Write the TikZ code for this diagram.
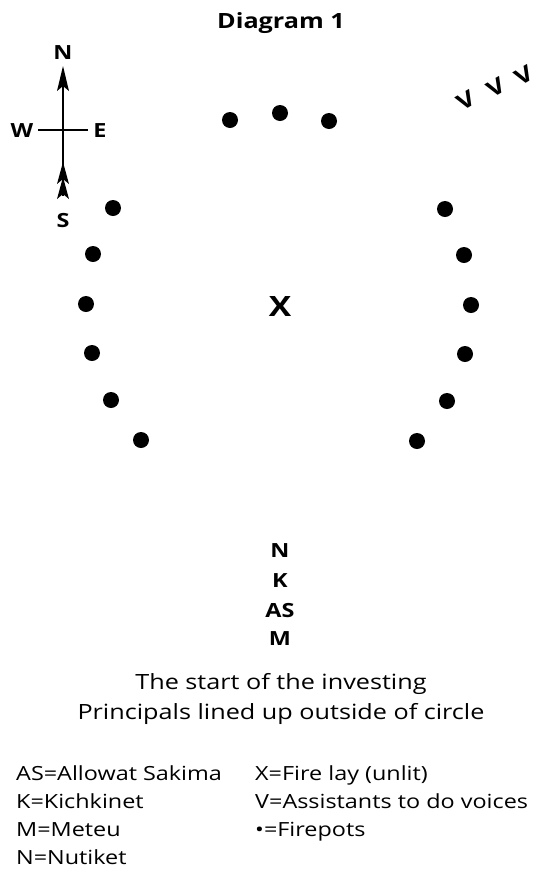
\documentclass[tikz,border=0pt]{standalone}
\usepackage{fontspec}
\setmainfont{Open Sans}[FakeStretch=1.2]
\usetikzlibrary{arrows.meta}
\begin{document}
\begin{tikzpicture}[x=1pt,y=-1pt,
  pot/.style={fill=black},
  bld/.style={font=\bfseries\fontsize{19.5}{23}\selectfont, inner sep=0pt},
  lbl/.style={font=\fontsize{21}{25}\selectfont, inner sep=0pt},
  leg/.style={font=\fontsize{19.5}{23}\selectfont, inner sep=0pt, anchor=base west},
  cmp/.style={line width=2.6pt},
  voice/.style={font=\bfseries\fontsize{22}{26}\selectfont, inner sep=0pt, rotate=30}]
\useasboundingbox (0,0) rectangle (539,871);
% title
\node[bld, font=\bfseries\fontsize{21}{25}\selectfont, anchor=base] (title) at (281,28) {Diagram 1};
% compass
\node[bld, anchor=base] (cN) at (63,59) {N};
\node[bld, anchor=base] (cS) at (63,227) {S};
\node[bld, anchor=base] (cW) at (22,137) {W};
\node[bld, anchor=base] (cE) at (100,137) {E};
\coordinate (ntip) at (63,66);
\coordinate (sbot) at (63,196);
\coordinate (wend) at (38,130);
\coordinate (eend) at (88,130);
\draw[cmp] (63,84) -- (sbot);
\draw[cmp] (wend) -- (eend);
\fill (ntip) -- (57,91) -- (63,86) -- (69,91) -- cycle;
\fill (63,162) -- (57,184) -- (63,179) -- (69,184) -- cycle;
\fill (63,177) -- (57,199) -- (63,194) -- (69,199) -- cycle;
% voices
\node[voice] (v1) at (466,100) {V};
\node[voice] (v2) at (496,87) {V};
\node[voice] (v3) at (524,75) {V};
% firepots
\foreach \n/\p in {t1/{230,120}, t2/{280,113}, t3/{329,121},
  l1/{113,208}, l2/{93,254}, l3/{86,304}, l4/{92,353}, l5/{111,400}, l6/{141,440},
  r1/{445,209}, r2/{464,255}, r3/{471,305}, r4/{465,354}, r5/{447,401}, r6/{417,441}}
  \fill[pot] (\p) circle (8);
% fire lay
\node[bld, font=\bfseries\fontsize{28}{32}\selectfont, anchor=base] (fire) at (280,316) {X};
% principals
\node[bld, anchor=base] (pN) at (280,557) {N};
\node[bld, anchor=base] (pK) at (280,587) {K};
\node[bld, anchor=base] (pAS) at (280,617) {AS};
\node[bld, anchor=base] (pM) at (280,645) {M};
% captions
\node[lbl, anchor=base] (cap1) at (281,689) {The start of the investing};
\node[lbl, anchor=base] (cap2) at (281,719) {Principals lined up outside of circle};
% legend
\node[leg] (l1) at (16,780) {AS=Allowat Sakima};
\node[leg] (l2) at (16,808) {K=Kichkinet};
\node[leg] (l3) at (16,836) {M=Meteu};
\node[leg] (l4) at (16,864) {N=Nutiket};
\node[leg] (r1) at (255,780) {X=Fire lay (unlit)};
\node[leg] (r2) at (255,808) {V=Assistants to do voices};
\node[leg] (r3) at (255,836) {•=Firepots};
\end{tikzpicture}
\end{document}
